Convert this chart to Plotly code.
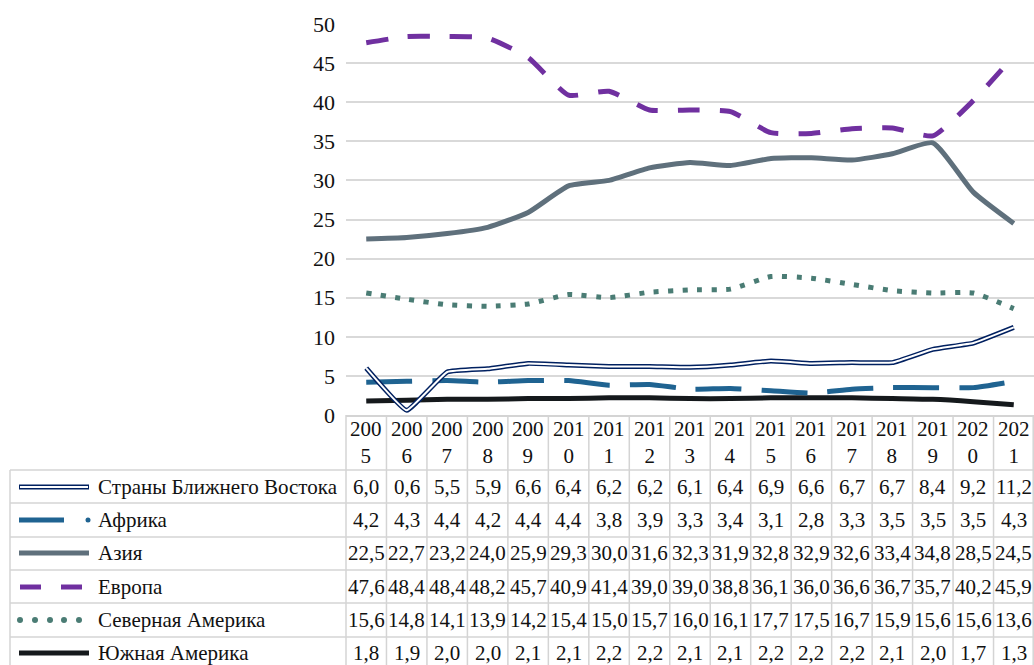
import plotly.graph_objects as go

years = [str(y) for y in range(2005, 2022)]
series_names = ["Страны Ближнего Востока", "Африка", "Азия", "Европа",
                "Северная Америка", "Южная Америка"]
middle_east = [6.0, 0.6, 5.5, 5.9, 6.6, 6.4, 6.2, 6.2, 6.1, 6.4, 6.9, 6.6, 6.7, 6.7, 8.4, 9.2, 11.2]
africa = [4.2, 4.3, 4.4, 4.2, 4.4, 4.4, 3.8, 3.9, 3.3, 3.4, 3.1, 2.8, 3.3, 3.5, 3.5, 3.5, 4.3]
asia = [22.5, 22.7, 23.2, 24.0, 25.9, 29.3, 30.0, 31.6, 32.3, 31.9, 32.8, 32.9, 32.6, 33.4, 34.8, 28.5, 24.5]
europe = [47.6, 48.4, 48.4, 48.2, 45.7, 40.9, 41.4, 39.0, 39.0, 38.8, 36.1, 36.0, 36.6, 36.7, 35.7, 40.2, 45.9]
north_america = [15.6, 14.8, 14.1, 13.9, 14.2, 15.4, 15.0, 15.7, 16.0, 16.1, 17.7, 17.5, 16.7, 15.9, 15.6, 15.6, 13.6]
south_america = [1.8, 1.9, 2.0, 2.0, 2.1, 2.1, 2.2, 2.2, 2.1, 2.1, 2.2, 2.2, 2.2, 2.1, 2.0, 1.7, 1.3]
all_series = [middle_east, africa, asia, europe, north_america, south_america]

W, H = 1034, 665
L, T, B = 346, 24, 250
PLOT_H = H - T - B          # 391
PLOT_W = W - L              # 688
FONT = "'Liberation Serif', 'Times New Roman', 'DejaVu Serif', serif"
FS = 21

NAVY = "#002060"
AFR = "#1f6391"
ASIA = "#5f707c"
EUR = "#7030a0"
NAM = "#4a7c74"
SAM = "#15191c"
GRID = "#d9d9d9"

def py(p):   # pixel y -> paper y
    return (H - B - p) / PLOT_H

def px(p):   # pixel x -> paper x
    return (p - L) / PLOT_W

xs = list(range(len(years)))
fig = go.Figure()
sm = 0.5
fig.add_trace(go.Scatter(x=xs, y=north_america, mode="lines",
                         line=dict(color=NAM, width=5, dash="5px,9.5px", shape="spline", smoothing=sm)))
fig.add_trace(go.Scatter(x=xs, y=asia, mode="lines",
                         line=dict(color=ASIA, width=5, shape="spline", smoothing=sm)))
fig.add_trace(go.Scatter(x=xs, y=europe, mode="lines",
                         line=dict(color=EUR, width=5, dash="22px,20px", shape="spline", smoothing=sm)))
fig.add_trace(go.Scatter(x=xs, y=south_america, mode="lines",
                         line=dict(color=SAM, width=5, shape="spline", smoothing=sm)))
fig.add_trace(go.Scatter(x=xs, y=africa, mode="lines",
                         line=dict(color=AFR, width=5, dash="46px,20px", shape="spline", smoothing=sm)))
fig.add_trace(go.Scatter(x=xs, y=middle_east, mode="lines",
                         line=dict(color=NAVY, width=5, shape="spline", smoothing=0.3)))
fig.add_trace(go.Scatter(x=xs, y=middle_east, mode="lines",
                         line=dict(color="white", width=2, shape="spline", smoothing=0.3)))

shapes = []
annotations = []
line_style = dict(color="#d4d4d4", width=1.5)

# horizontal table borders
row_lines = [470, 503, 537, 570, 603, 637]
for p in row_lines:
    shapes.append(dict(type="line", xref="paper", yref="paper", x0=px(10), x1=1,
                       y0=py(p), y1=py(p), line=line_style, layer="above"))
# vertical borders
shapes.append(dict(type="line", xref="paper", yref="paper", x0=px(10), x1=px(10),
                   y0=py(470), y1=py(672), line=line_style))
n = len(years)
for i in range(n + 1):
    xp = i / n
    if i == n:
        xp = 1 - 0.8 / PLOT_W
    shapes.append(dict(type="line", xref="paper", yref="paper", x0=xp, x1=xp,
                       y0=py(415), y1=py(672), line=line_style))

# header labels (years split like Excel wrapping)
for i, yr in enumerate(years):
    annotations.append(dict(x=i, y=py(443), xref="x", yref="paper",
                            text=yr[:3] + "<br>" + yr[3:], showarrow=False,
                            font=dict(family=FONT, size=FS, color="#111"),
                            xanchor="center", yanchor="middle"))

row_centers = [487, 520, 553, 587, 620, 653]
for r, (name, vals) in enumerate(zip(series_names, all_series)):
    yc = py(row_centers[r])
    annotations.append(dict(x=px(96), y=yc, xref="paper", yref="paper", text=name,
                            showarrow=False, xanchor="left", yanchor="middle",
                            font=dict(family=FONT, size=FS, color="#111")))
    for i, v in enumerate(vals):
        annotations.append(dict(x=i, y=yc, xref="x", yref="paper",
                                text=f"{v:.1f}".replace(".", ","), showarrow=False,
                                xanchor="center", yanchor="middle",
                                font=dict(family=FONT, size=FS, color="#111")))

# legend keys
def key_line(x0, x1, p, color, width):
    shapes.append(dict(type="line", xref="paper", yref="paper", x0=px(x0), x1=px(x1),
                       y0=py(p), y1=py(p), line=dict(color=color, width=width)))

def key_dot(xc, p, color, r):
    shapes.append(dict(type="circle", xref="paper", yref="paper",
                       x0=px(xc - r), x1=px(xc + r), y0=py(p - r), y1=py(p + r),
                       fillcolor=color, line=dict(width=0)))

k = row_centers
key_line(19, 89, k[0], NAVY, 5)
key_line(20, 88, k[0], "white", 2)
key_line(19, 64, k[1], AFR, 5)
key_dot(88, k[1], AFR, 2.5)
key_line(19, 89, k[2], ASIA, 5)
key_line(20, 41, k[3], EUR, 5)
key_line(61, 82, k[3], EUR, 5)
for xc in [20, 35, 50, 64, 79]:
    key_dot(xc, k[4], NAM, 3)
key_line(19, 89, k[5], SAM, 5)

fig.update_layout(
    width=W, height=H, autosize=False,
    margin=dict(l=L, r=0, t=T, b=B),
    paper_bgcolor="white", plot_bgcolor="white",
    showlegend=False,
    font=dict(family=FONT),
    shapes=shapes, annotations=annotations,
    xaxis=dict(range=[-0.5, n - 0.5], showticklabels=False, showgrid=False,
               zeroline=False, showline=True, linecolor="#d4d4d4", linewidth=1.5,
               ticks="", fixedrange=True),
    yaxis=dict(range=[0, 50], dtick=5, showgrid=True, gridcolor=GRID, gridwidth=1.5,
               zeroline=False, showline=False, ticks="",
               ticklabelstandoff=10,
               tickfont=dict(family=FONT, size=22, color="#111"), fixedrange=True),
)

fig.write_html("out.html", config={"displayModeBar": False},
               post_script="document.body.style.margin='0';document.body.style.overflow='hidden';")
